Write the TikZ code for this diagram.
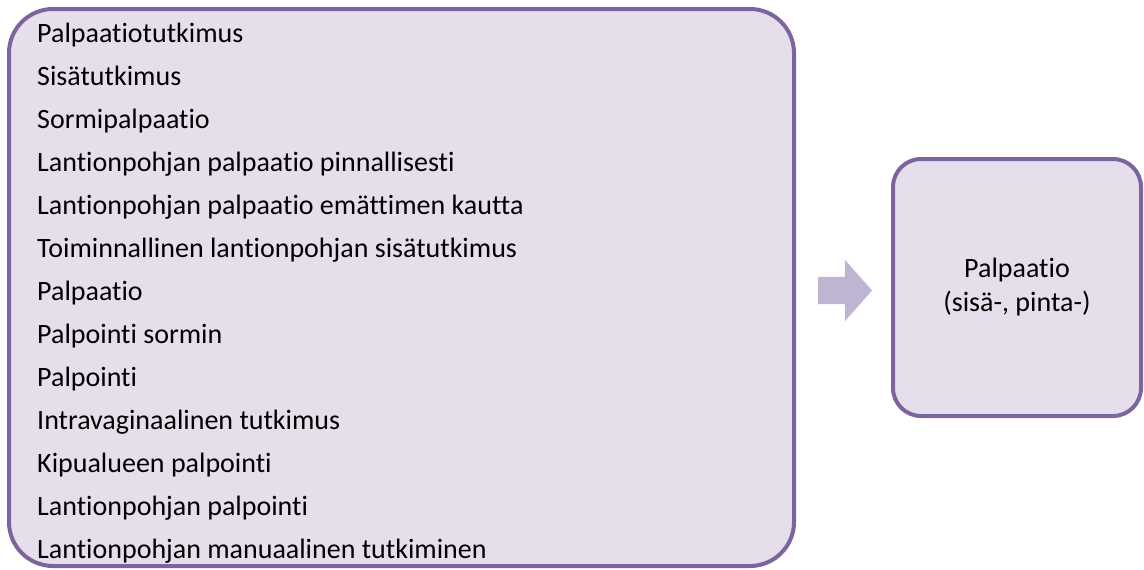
\documentclass[tikz,border=0pt]{standalone}
\usepackage{fontspec}
\setmainfont{Carlito}[Ligatures=NoCommon]
\usetikzlibrary{shapes.arrows}

\definecolor{boxfill}{HTML}{E5DFEC}
\definecolor{boxline}{HTML}{7E649E}
\definecolor{arrfill}{HTML}{BFB5D3}

\begin{document}
\begin{tikzpicture}[
  x=1pt, y=-1pt,
  group/.style={draw=boxline, line width=4pt, fill=boxfill,
              rounded corners=44pt, inner sep=0pt},
  result/.style={draw=boxline, line width=4pt, fill=boxfill,
              rounded corners=28pt, align=center,
              font=\fontsize{28}{34}\selectfont},
  item/.style={anchor=base west, inner sep=0pt,
              font=\fontsize{28}{34}\selectfont},
  flow/.style={single arrow, fill=arrfill, inner xsep=0pt,
              inner ysep=13.5pt, minimum height=54pt,
              single arrow head extend=17pt, single arrow tip angle=97},
]
\useasboundingbox (0,0) rectangle (1144,570);

\node[group, minimum width=785pt, minimum height=557pt] (terms) at (401.5,287.5) {};

\node[item] (t1) at (37,42) {Palpaatiotutkimus};
\node[item] (t2) at (37,85) {Sisätutkimus};
\node[item] (t3) at (37,128) {Sormipalpaatio};
\node[item] (t4) at (37,171) {Lantionpohjan palpaatio pinnallisesti};
\node[item] (t5) at (37,214) {Lantionpohjan palpaatio emättimen kautta};
\node[item] (t6) at (37,257) {Toiminnallinen lantionpohjan sisätutkimus};
\node[item] (t7) at (37,300) {Palpaatio};
\node[item] (t8) at (37,343) {Palpointi sormin};
\node[item] (t9) at (37,386) {Palpointi};
\node[item] (t10) at (37,429) {Intravaginaalinen tutkimus};
\node[item] (t11) at (37,472) {Kipualueen palpointi};
\node[item] (t12) at (37,515) {Lantionpohjan palpointi};
\node[item] (t13) at (37,558) {Lantionpohjan manuaalinen tutkiminen};

\node[result, minimum width=248pt, minimum height=257pt] (res) at (1017,287.5)
  {Palpaatio\\(sisä-, pinta-)};

\node[flow] (arr) at (839,290.5) {};

\end{tikzpicture}
\end{document}
